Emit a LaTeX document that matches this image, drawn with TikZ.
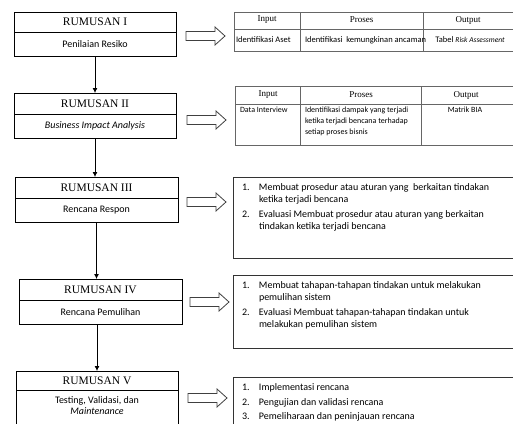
\documentclass[tikz,border=0pt]{standalone}
\usepackage{fontspec}
\setmainfont{Liberation Serif}
\newfontfamily\calib{Carlito}
\usetikzlibrary{arrows.meta}

\tikzset{
  fatarrow/.pic={
    \draw[line width=0.8pt, draw=black!75, fill=white]
      (0,-4.5) -- (29,-4.5) -- (29,-9) -- (39,0) -- (29,9) -- (29,4.5) -- (0,4.5) -- cycle;
  }
}

\begin{document}
\begin{tikzpicture}[x=1pt, y=-1pt,
  every node/.style={inner sep=0pt, outer sep=0pt},
  rtitle/.style={draw=black, line width=0.8pt, anchor=north west, align=center,
    font=\fontsize{11.5}{13}\selectfont},
  rsub/.style={draw=black, line width=0.8pt, anchor=north west, align=center,
    font=\calib\fontsize{10}{12}\selectfont},
  conn/.style={line width=0.8pt, -{Latex[length=5pt,width=5pt]}},
  tbl/.style={line width=0.9pt, draw=black!60},
  listbox/.style={line width=0.9pt, draw=black!80},
  hdr/.style={font=\fontsize{9}{11}\selectfont},
  cell/.style={font=\calib\fontsize{8.5}{10}\selectfont},
  cellb/.style={font=\calib\fontsize{8}{11}\selectfont},
  listtext/.style={anchor=base west, align=left, font=\calib\fontsize{10}{12}\selectfont}
]
\useasboundingbox (0,0) rectangle (513,423);
\fill[white] (0,0) rectangle (513,423);
\clip (0,0) rectangle (513,423);

% ---- left column: the five stages ----
\node[rtitle, minimum width=162, minimum height=20] (r1) at (14,12) {RUMUSAN I};
\node[rsub, minimum width=162, minimum height=24] (r1s) at (r1.south west) {Penilaian Resiko};

\node[rtitle, minimum width=162, minimum height=21] (r2) at (14,93) {RUMUSAN II};
\node[rsub, minimum width=162, minimum height=24] (r2s) at (r2.south west) {\itshape Business Impact Analysis};

\node[rtitle, minimum width=163, minimum height=21] (r3) at (15,177) {RUMUSAN III};
\node[rsub, minimum width=163, minimum height=24] (r3s) at (r3.south west) {Rencana Respon};

\node[rtitle, minimum width=163, minimum height=21] (r4) at (19,279) {RUMUSAN IV};
\node[rsub, minimum width=163, minimum height=24] (r4s) at (r4.south west) {Rencana Pemulihan};

\node[rtitle, minimum width=162, minimum height=19] (r5) at (16,371) {RUMUSAN V};
\node[rsub, minimum width=162, minimum height=50] (r5s) at (r5.south west) {};
\node[align=center, font=\calib\fontsize{10}{10.5}\selectfont, anchor=north] (r5t)
  at ([yshift=-7pt]r5s.north) {Testing, Validasi, dan\\ \itshape Maintenance};

% ---- connectors between stages ----
\draw[conn] (r1s.south) -- (r2.north);
\draw[conn] (r2s.south) -- (r2s.south |- r3.north);
\draw[conn] (r3s.south) -- (r3s.south |- r4.north);
\draw[conn] (r5.north |- r4s.south) -- (r5.north);

% ---- block arrows ----
\pic at (186,36) {fatarrow};
\pic at (187,120) {fatarrow};
\pic at (187,202) {fatarrow};
\pic at (190,302) {fatarrow};
\pic at (188,398) {fatarrow};

% ---- table of stage I ----
\draw[tbl] (234,12) rectangle (520,51);
\draw[tbl] (234,29) -- (520,29);
\draw[tbl] (300,12) -- (300,51);
\draw[tbl] (423,12) -- (423,51);
\node[hdr] (t1i) at (267,20) {Input};
\node[hdr] (t1p) at (361.5,20) {Proses};
\node[hdr] (t1o) at (468,20) {Output};
\node[cell, anchor=west] (t1a) at (236,40) {Identifikasi Aset};
\node[cell, anchor=west] (t1b) at (305,40) {Identifikasi\ \ kemungkinan ancaman};
\node[cell] (t1c) at (470,40) {Tabel {\itshape\fontsize{7.5}{9}\selectfont Risk Assessment}};

% ---- table of stage II ----
\draw[tbl] (235,86) rectangle (520,145);
\draw[tbl] (235,104) -- (520,104);
\draw[tbl] (300,86) -- (300,145);
\draw[tbl] (421,86) -- (421,145);
\node[hdr] (t2i) at (268,95) {Input};
\node[hdr] (t2p) at (361,95) {Proses};
\node[hdr] (t2o) at (466,95) {Output};
\node[cellb, anchor=base west] (t2a) at (240,112.5) {Data Interview};
\node[cellb, anchor=base west] (t2b) at (305,112.5)
  {\begin{tabular}[t]{@{}l@{}}Identifikasi dampak yang terjadi\\ ketika terjadi bencana terhadap\\ setiap proses bisnis\end{tabular}};
\node[cellb, anchor=base] (t2c) at (465,112.5) {Matrik BIA};

% ---- lists of stages III to V ----
\draw[listbox] (233,177) rectangle (520,258);
\node[listtext] (l3) at (242,190.5) {\begin{tabular}[t]{@{}p{17pt}@{}l@{}}
1. & Membuat prosedur atau aturan yang\ \ berkaitan tindakan\\
   & ketika terjadi bencana\\[3pt]
2. & Evaluasi Membuat prosedur atau aturan yang berkaitan\\
   & tindakan ketika terjadi bencana
\end{tabular}};

\draw[listbox] (233,275) rectangle (520,348);
\node[listtext] (l4) at (242,288.5) {\begin{tabular}[t]{@{}p{17pt}@{}l@{}}
1. & Membuat tahapan-tahapan tindakan untuk melakukan\\
   & pemulihan sistem\\[3pt]
2. & Evaluasi Membuat tahapan-tahapan tindakan untuk\\
   & melakukan pemulihan sistem
\end{tabular}};

\draw[listbox] (233,377) rectangle (520,430);
\node[listtext] (l5) at (242,390.5) {\begin{tabular}[t]{@{}p{17pt}@{}l@{}}
1. & Implementasi rencana\\[2.5pt]
2. & Pengujian dan validasi rencana\\[2.5pt]
3. & Pemeliharaan dan peninjauan rencana
\end{tabular}};
\end{tikzpicture}
\end{document}
